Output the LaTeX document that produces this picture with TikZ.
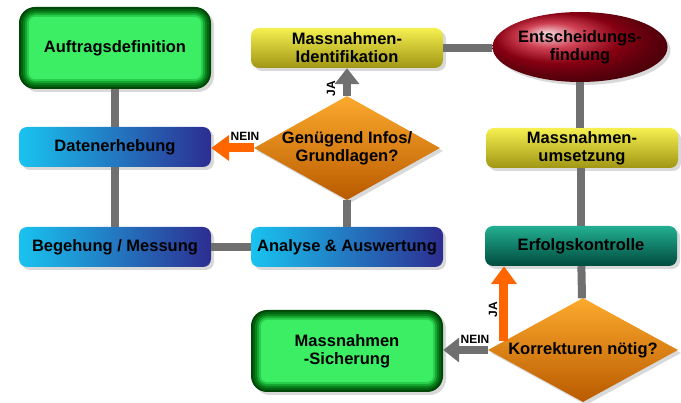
\documentclass[tikz,border=0pt]{standalone}
\usepackage{fontspec}
\setmainfont{Liberation Sans}
\usetikzlibrary{shapes.geometric,shadows,arrows.meta,calc}

\definecolor{linkgray}{RGB}{112,112,112}
\definecolor{jaorange}{RGB}{255,102,0}
\definecolor{greenlight}{RGB}{60,238,100}
\definecolor{greenrimd}{RGB}{40,205,75}
\definecolor{greenrimc}{RGB}{22,165,48}
\definecolor{greenrimb}{RGB}{10,128,28}
\definecolor{greenrima}{RGB}{2,100,16}
\definecolor{greendark}{RGB}{0,72,8}
\definecolor{bluelight}{RGB}{25,195,240}
\definecolor{bluedark}{RGB}{45,45,145}
\definecolor{yellowlight}{RGB}{245,240,80}
\definecolor{yellowdark}{RGB}{160,150,20}
\definecolor{teallight}{RGB}{35,175,145}
\definecolor{tealdark}{RGB}{0,75,62}
\definecolor{redball}{RGB}{190,0,25}
\definecolor{orangetop}{RGB}{252,170,45}
\definecolor{orangemid}{RGB}{246,142,22}
\definecolor{orangebot}{RGB}{185,90,0}

\begin{document}
\begin{tikzpicture}[x=1pt,y=-1pt]
    %\tikzset{every node/.style={draw=red}}
    \tikzset{
        proc/.style={rectangle, rounded corners=8pt, minimum width=192pt,
            minimum height=40pt, inner sep=0pt, align=center,
            font=\fontsize{16.5}{18}\selectfont\bfseries,
            drop shadow={opacity=0.3, shadow xshift=3pt, shadow yshift=-3pt}},
        greenproc/.style={proc, rounded corners=16pt, minimum height=82pt,
            fill=greendark,
            path picture={
                \foreach \d/\c in {2/greenrima, 4/greenrimb, 6/greenrimc,
                    8/greenrimd, 10/greenlight}
                    \fill[\c, rounded corners=16pt-\d pt]
                        ($(path picture bounding box.south west)+(\d,-\d)$)
                        rectangle
                        ($(path picture bounding box.north east)+(-\d,\d)$);
            }},
        blueproc/.style={proc, left color=bluelight, right color=bluedark},
        yellowproc/.style={proc, top color=yellowlight, bottom color=yellowdark},
        tealproc/.style={proc, top color=teallight, bottom color=tealdark},
        decide/.style={diamond, minimum width=186pt, minimum height=104pt,
            inner sep=0pt, top color=orangetop, middle color=orangemid,
            bottom color=orangebot,
            drop shadow={opacity=0.3, shadow xshift=3pt, shadow yshift=-3pt}},
        decidetext/.style={align=center, inner sep=0pt,
            font=\fontsize{16.5}{18}\selectfont\bfseries},
        link/.style={draw=linkgray, line width=8pt},
        grayarrow/.style={draw=linkgray, line width=8pt,
            -{Triangle[width=24pt,length=16pt]}},
        orangearrow/.style={draw=jaorange, line width=9pt,
            -{Triangle[width=25pt,length=18pt]}},
        answer/.style={font=\fontsize{12}{12}\selectfont\bfseries, inner sep=0pt}
    }
    \useasboundingbox (0,0) rectangle (681,403);

    % left column
    \node[greenproc] (auftrag) at (115,48) {Auftragsdefinition};
    \node[blueproc] (daten) at (115,147) {Datenerhebung};
    \node[blueproc] (begehung) at (115,247) {Begehung / Messung};

    % middle column
    \node[yellowproc] (ident) at (347,48) {Massnahmen-\\Identifikation};
    \node[decide] (infos) at (347,148) {};
    \node[decidetext] (infostext) at (347,148) {Genügend Infos/\\Grundlagen?};
    \node[blueproc] (analyse) at (347,247) {Analyse \& Auswertung};
    \node[greenproc] (sicher) at (347,351) {Massnahmen\\-Sicherung};

    % right column
    \node[ellipse, minimum width=145pt, minimum height=70pt, inner sep=0pt,
        ball color=redball, align=center,
        font=\fontsize{16.5}{18}\selectfont\bfseries,
        drop shadow={opacity=0.3, shadow xshift=3pt, shadow yshift=-3pt}]
        (entscheid) at (580,47) {Entscheidungs-\\findung};
    \node[yellowproc] (umsetz) at (582,148) {Massnahmen-\\umsetzung};
    \node[tealproc] (erfolg) at (581,246) {Erfolgskontrolle};
    \node[decide, minimum width=190pt] (korr) at (583,350) {};
    \node[decidetext] (korrtext) at (583,350) {Korrekturen nötig?};

    % connectors
    \draw[link] (auftrag) -- (daten);
    \draw[link] (daten) -- (begehung);
    \draw[link] (begehung) -- (analyse);
    \draw[link] (analyse) -- (infos);
    \draw[link] (ident) -- (entscheid.west |- ident);
    \draw[link] (entscheid) -- (umsetz.north -| entscheid);
    \draw[link] (umsetz.south -| erfolg) -- (erfolg);
    \draw[link] (erfolg) -- (korr);

    % answers
    \draw[grayarrow] (infos.north) -- (ident.south);
    \draw[orangearrow] (infos.west) -- (daten.east |- infos.west);
    \draw[grayarrow] (korr.west) -- (sicher.east |- korr.west);
    \coordinate (jastart) at ($(korr.west)!0.17!(korr.north)$);
    \draw[orangearrow] (jastart) -- (jastart |- erfolg.south);

    \node[answer, rotate=90] (ja1) at (331,89) {JA};
    \node[answer] (nein1) at (245,136) {NEIN};
    \node[answer, rotate=90] (ja2) at (493,310) {JA};
    \node[answer] (nein2) at (475,339) {NEIN};
\end{tikzpicture}
\end{document}
